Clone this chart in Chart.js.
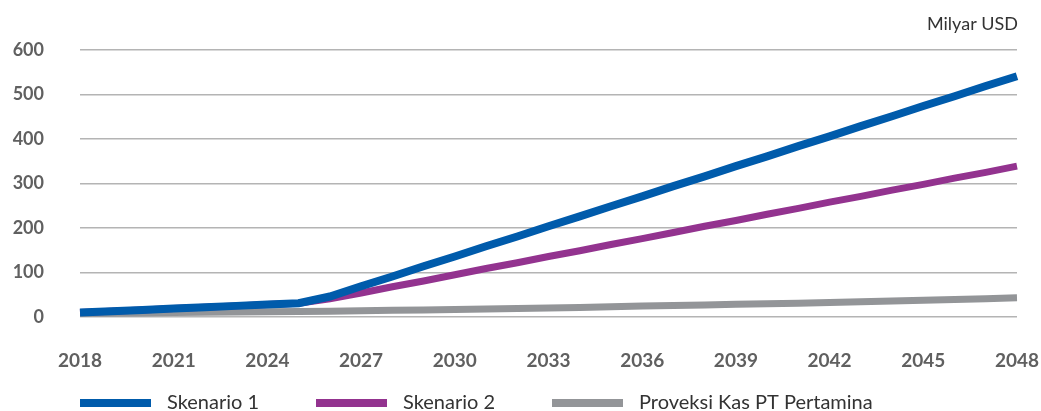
<!DOCTYPE html>
<html>
<head>
<meta charset="utf-8">
<script src="https://cdn.jsdelivr.net/npm/chart.js@4.4.0/dist/chart.umd.min.js"></script>
<style>
html,body{margin:0;padding:0;background:#fff;}
#wrap{width:1041px;height:411px;position:relative;}
</style>
</head>
<body>
<div id="wrap"><canvas id="c" width="1041" height="411"></canvas></div>
<script>
const years = [2018,2019,2020,2021,2022,2023,2024,2025,2026,2027,2028,2029,2030,2031,2032,2033,2034,2035,2036,2037,2038,2039,2040,2041,2042,2043,2044,2045,2046,2047,2048];
const skenario1 = [10,13,16,19,22,25,28,31,46,69,91,114,136,159,181,204,226,249,271,294,316,339,361,384,406,429,451,474,496,519,541];
const skenario2 = [10,13,16,19,22,25,28,31,41,54,68,81,95,109,122,136,149,163,176,190,204,217,231,244,258,271,285,298,312,325,339];
const proyeksiKas = [8,8.5,9,10,10.5,11,12,12.5,13,14,15,16,17,18,19,20,21.5,23,24.5,26,27,28.5,30,31,32.5,34,36,37.5,39.5,41,43];
const seriesNames = ['Skenario 1','Skenario 2','Proveksi Kas PT Pertamina'];
const unitLabel = 'Milyar USD';
const yTicks = [0,100,200,300,400,500,600];

const colors = ['#005bab','#93338f','#939598'];

const extras = {
  id:'extras',
  afterDraw(chart){
    const ctx = chart.ctx, a = chart.chartArea;
    ctx.save();
    ctx.font = '18px Lato';
    ctx.fillStyle = '#333';
    ctx.textAlign = 'right';
    ctx.textBaseline = 'middle';
    ctx.fillText(unitLabel, a.right + 1, 24);
    // legend
    ctx.font = '20px Lato';
    ctx.textAlign = 'left';
    const y = 403;
    seriesNames.forEach((n,i)=>{
      const x = a.left + i*236;
      ctx.fillStyle = colors[i];
      ctx.fillRect(x, y-4, 71, 8);
      ctx.fillStyle = '#333';
      ctx.fillText(n, x+87, y);
    });
    ctx.restore();
  }
};

new Chart(document.getElementById('c'), {
  type:'line',
  data:{
    labels: years.map(String),
    datasets:[
      {label:seriesNames[2], data:proyeksiKas, borderColor:colors[2], borderWidth:7, pointRadius:0, tension:0, order:3},
      {label:seriesNames[1], data:skenario2, borderColor:colors[1], borderWidth:7, pointRadius:0, tension:0, order:2},
      {label:seriesNames[0], data:skenario1, borderColor:colors[0], borderWidth:8, pointRadius:0, tension:0, order:1}
    ]
  },
  options:{
    responsive:false,
    animation:false,
    layout:{padding:{top:50,right:0,left:0,bottom:0}},
    plugins:{legend:{display:false}, tooltip:{enabled:false}},
    scales:{
      x:{
        grid:{display:false, drawTicks:false},
        border:{display:false},
        ticks:{
          autoSkip:false, maxRotation:0, padding:32,
          color:'#606060', font:{family:'Lato', size:19, weight:'bold'},
          callback:function(v,i){ return (years[i]-2018)%3===0 ? String(years[i]) : null; }
        },
        afterFit(s){ s.height = 94; s.paddingRight = 24; }
      },
      y:{
        min:0, max:600,
        grid:{color:'#b4b4b4', lineWidth:1.5, drawTicks:false},
        border:{display:false},
        afterBuildTicks(s){ s.ticks = yTicks.map(v=>({value:v})); },
        ticks:{padding:36, color:'#606060', font:{family:'Lato', size:18, weight:'bold'}},
        afterFit(s){ s.width = 80; }
      }
    }
  },
  plugins:[extras]
});
</script>
</body>
</html>
